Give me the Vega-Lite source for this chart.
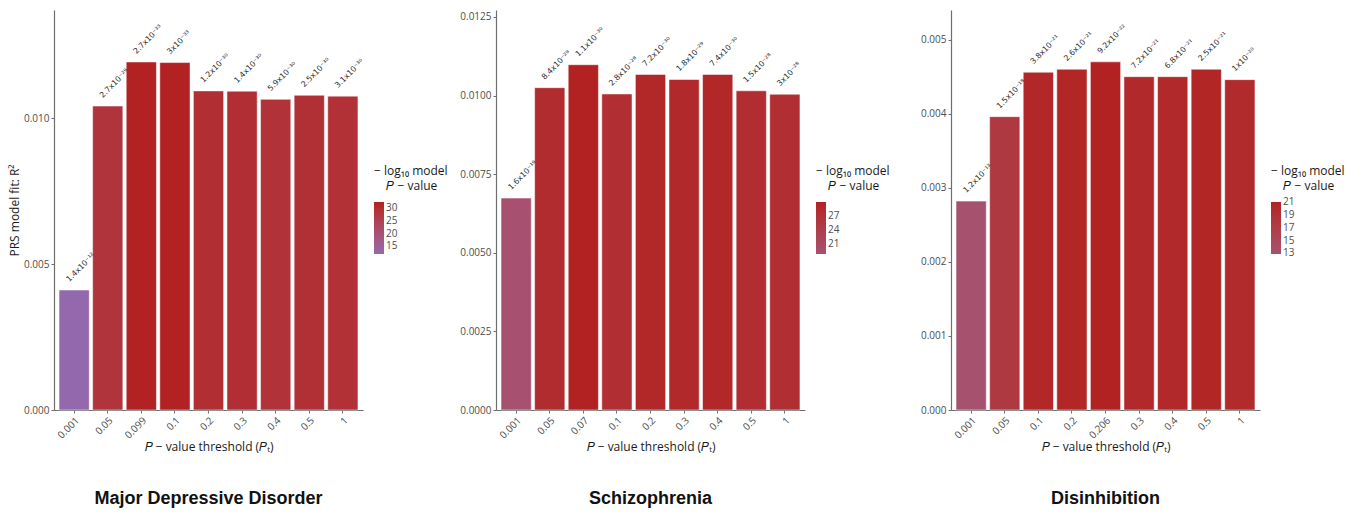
{
  "$schema": "https://vega.github.io/schema/vega-lite/v6.json",
  "background": "white",
  "padding": {"left": 8, "top": 10, "right": 4, "bottom": 4},
  "config": {
    "font": "Open Sans",
    "view": {"stroke": null},
    "axis": {
      "domainColor": "#6e6e6e",
      "domainWidth": 1.2,
      "tickColor": "#6e6e6e",
      "tickSize": 3,
      "grid": false,
      "labelColor": "#4d4d4d",
      "labelFontSize": 10,
      "titleColor": "#1a1a1a",
      "titleFontSize": 12,
      "titleFontWeight": "normal"
    },
    "axisX": {
      "labelAngle": -45,
      "labelAlign": "right",
      "labelBaseline": "top",
      "labelPadding": 2,
      "titlePadding": 1
    },
    "axisY": {"titlePadding": 2, "labelPadding": 2},
    "legend": {
      "orient": "none",
      "legendX": 320,
      "legendY": 156,
      "gradientLength": 52,
      "gradientThickness": 10,
      "gradientStrokeWidth": 0,
      "labelColor": "#4d4d4d",
      "labelFontSize": 10,
      "titleColor": "#1a1a1a",
      "titleFontSize": 12,
      "titleFontWeight": "normal",
      "titleLineHeight": 15,
      "titlePadding": 9
    },
    "title": {
      "font": "Liberation Sans",
      "fontSize": 18,
      "fontWeight": "bold",
      "color": "#111111",
      "orient": "bottom",
      "anchor": "middle",
      "frame": "group",
      "offset": 38
    }
  },
  "datasets": {
    "mdd": [
      {"thr": "0.001", "r2": 0.00411, "nlp": 11.854, "lab": "1.4x10⁻¹²"},
      {"thr": "0.05", "r2": 0.01041, "nlp": 28.569, "lab": "2.7x10⁻²⁹"},
      {"thr": "0.099", "r2": 0.01192, "nlp": 32.569, "lab": "2.7x10⁻³³"},
      {"thr": "0.1", "r2": 0.0119, "nlp": 32.523, "lab": "3x10⁻³³"},
      {"thr": "0.2", "r2": 0.01093, "nlp": 29.921, "lab": "1.2x10⁻³⁰"},
      {"thr": "0.3", "r2": 0.01092, "nlp": 29.854, "lab": "1.4x10⁻³⁰"},
      {"thr": "0.4", "r2": 0.01064, "nlp": 29.229, "lab": "5.9x10⁻³⁰"},
      {"thr": "0.5", "r2": 0.01078, "nlp": 29.602, "lab": "2.5x10⁻³⁰"},
      {"thr": "1", "r2": 0.01075, "nlp": 29.509, "lab": "3.1x10⁻³⁰"}
    ],
    "scz": [
      {"thr": "0.001", "r2": 0.00674, "nlp": 18.796, "lab": "1.6x10⁻¹⁹"},
      {"thr": "0.05", "r2": 0.01025, "nlp": 28.076, "lab": "8.4x10⁻²⁹"},
      {"thr": "0.07", "r2": 0.01098, "nlp": 29.959, "lab": "1.1x10⁻³⁰"},
      {"thr": "0.1", "r2": 0.01005, "nlp": 27.553, "lab": "2.8x10⁻²⁸"},
      {"thr": "0.2", "r2": 0.01067, "nlp": 29.143, "lab": "7.2x10⁻³⁰"},
      {"thr": "0.3", "r2": 0.01051, "nlp": 28.745, "lab": "1.8x10⁻²⁹"},
      {"thr": "0.4", "r2": 0.01067, "nlp": 29.131, "lab": "7.4x10⁻³⁰"},
      {"thr": "0.5", "r2": 0.01015, "nlp": 27.824, "lab": "1.5x10⁻²⁸"},
      {"thr": "1", "r2": 0.01004, "nlp": 27.523, "lab": "3x10⁻²⁸"}
    ],
    "dis": [
      {"thr": "0.001", "r2": 0.00282, "nlp": 12.921, "lab": "1.2x10⁻¹³"},
      {"thr": "0.05", "r2": 0.00396, "nlp": 17.824, "lab": "1.5x10⁻¹⁸"},
      {"thr": "0.1", "r2": 0.00456, "nlp": 20.42, "lab": "3.8x10⁻²¹"},
      {"thr": "0.2", "r2": 0.0046, "nlp": 20.585, "lab": "2.6x10⁻²¹"},
      {"thr": "0.206", "r2": 0.0047, "nlp": 21.036, "lab": "9.2x10⁻²²"},
      {"thr": "0.3", "r2": 0.0045, "nlp": 20.143, "lab": "7.2x10⁻²¹"},
      {"thr": "0.4", "r2": 0.0045, "nlp": 20.167, "lab": "6.8x10⁻²¹"},
      {"thr": "0.5", "r2": 0.0046, "nlp": 20.602, "lab": "2.5x10⁻²¹"},
      {"thr": "1", "r2": 0.00446, "nlp": 20, "lab": "1x10⁻²⁰"}
    ]
  },
  "hconcat": [
    {
      "hconcat": [
        {
          "width": 309,
          "height": 400,
          "data": {"name": "mdd"},
          "title": "Major Depressive Disorder",
          "encoding": {
            "x": {
              "field": "thr",
              "type": "ordinal",
              "sort": null,
              "scale": {"paddingInner": 0.1, "paddingOuter": 0.15},
              "axis": {"title": "𝑃 − value threshold (𝑃ₜ)"}
            },
            "y": {
              "field": "r2",
              "type": "quantitative",
              "scale": {"domain": [0, 0.0137], "nice": false},
              "axis": {"values": [0, 0.005, 0.01], "format": ".3f", "title": "PRS model fit:  R²"}
            }
          },
          "layer": [
            {
              "mark": {"type": "bar", "stroke": "#ffffff", "strokeOpacity": 0.5, "strokeWidth": 1},
              "encoding": {
                "color": {
                  "field": "nlp",
                  "type": "quantitative",
                  "scale": {"range": ["#9468ad", "#b22222"], "interpolate": "lab", "zero": false, "nice": false},
                  "legend": {"title": ["− log₁₀ model", "\u200d\u00a0\u00a0\u00a0\u00a0𝑃 − value"], "values": [15, 20, 25, 30]}
                }
              }
            },
            {
              "mark": {"type": "text", "font": "DejaVu Sans", "fontSize": 7.8, "color": "#2a2a2a", "angle": -45, "align": "left", "baseline": "middle", "dx": 2, "dy": -11},
              "encoding": {"text": {"field": "lab"}}
            }
          ]
        },
        {
          "width": 309,
          "height": 400,
          "data": {"name": "scz"},
          "title": "Schizophrenia",
          "encoding": {
            "x": {
              "field": "thr",
              "type": "ordinal",
              "sort": null,
              "scale": {"paddingInner": 0.1, "paddingOuter": 0.15},
              "axis": {"title": "𝑃 − value threshold (𝑃ₜ)"}
            },
            "y": {
              "field": "r2",
              "type": "quantitative",
              "scale": {"domain": [0, 0.01272], "nice": false},
              "axis": {"values": [0, 0.0025, 0.005, 0.0075, 0.01, 0.0125], "format": ".4f", "title": null}
            }
          },
          "layer": [
            {
              "mark": {"type": "bar", "stroke": "#ffffff", "strokeOpacity": 0.5, "strokeWidth": 1},
              "encoding": {
                "color": {
                  "field": "nlp",
                  "type": "quantitative",
                  "scale": {"range": ["#a8506f", "#b22222"], "interpolate": "lab", "zero": false, "nice": false},
                  "legend": {"title": ["− log₁₀ model", "\u200d\u00a0\u00a0\u00a0\u00a0𝑃 − value"], "values": [21, 24, 27]}
                }
              }
            },
            {
              "mark": {"type": "text", "font": "DejaVu Sans", "fontSize": 7.8, "color": "#2a2a2a", "angle": -45, "align": "left", "baseline": "middle", "dx": 2, "dy": -11},
              "encoding": {"text": {"field": "lab"}}
            }
          ]
        }
      ],
      "spacing": 11,
      "resolve": {"scale": {"x": "independent", "y": "independent", "color": "independent"}, "legend": {"color": "independent"}}
    },
    {
      "width": 309,
      "height": 400,
      "data": {"name": "dis"},
      "title": "Disinhibition",
      "encoding": {
        "x": {
          "field": "thr",
          "type": "ordinal",
          "sort": null,
          "scale": {"paddingInner": 0.1, "paddingOuter": 0.15},
          "axis": {"title": "𝑃 − value threshold (𝑃ₜ)"}
        },
        "y": {
          "field": "r2",
          "type": "quantitative",
          "scale": {"domain": [0, 0.0054], "nice": false},
          "axis": {"values": [0, 0.001, 0.002, 0.003, 0.004, 0.005], "format": ".3f", "title": null}
        }
      },
      "layer": [
        {
          "mark": {"type": "bar", "stroke": "#ffffff", "strokeOpacity": 0.5, "strokeWidth": 1},
          "encoding": {
            "color": {
              "field": "nlp",
              "type": "quantitative",
              "scale": {"range": ["#a6526f", "#b22222"], "interpolate": "lab", "zero": false, "nice": false},
              "legend": {"title": ["− log₁₀ model", "\u200d\u00a0\u00a0\u00a0\u00a0𝑃 − value"], "values": [13, 15, 17, 19, 21]}
            }
          }
        },
        {
          "mark": {"type": "text", "font": "DejaVu Sans", "fontSize": 7.8, "color": "#2a2a2a", "angle": -45, "align": "left", "baseline": "middle", "dx": 2, "dy": -11},
          "encoding": {"text": {"field": "lab"}}
        }
      ]
    }
  ],
  "spacing": 30,
  "resolve": {"scale": {"x": "independent", "y": "independent", "color": "independent"}, "legend": {"color": "independent"}}
}
